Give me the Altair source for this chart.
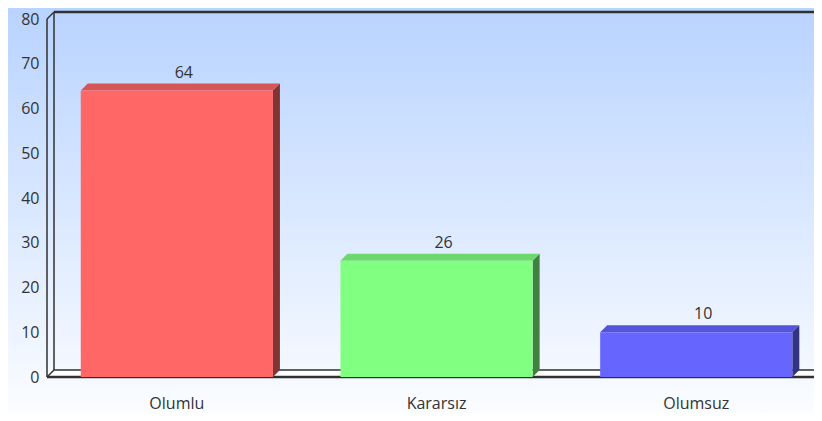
import altair as alt
import pandas as pd

# ---- data ----
categories = ["Olumlu", "Kararsız", "Olumsuz"]
values = [64, 26, 10]
front_colors = ["#FF6666", "#80FF80", "#6666FF"]
top_colors = ["#D95555", "#6CD96C", "#5555D9"]
side_colors = ["#803535", "#408040", "#333380"]
y_ticks = [0, 10, 20, 30, 40, 50, 60, 70, 80]

# ---- layout ----
W, H = 767, 358
SX = 259.7           # px per category band
XMAX = W / SX
YMAX = 80
PAD = 0.13           # half gap inside each category band
sy = H / YMAX
DX = 7 / SX          # 3D depth in data units (x)
DY = 7 / sy          # 3D depth in data units (y)

bars = pd.DataFrame({
    "cat": categories,
    "value": values,
    "x0": [i + PAD for i in range(3)],
    "x1": [i + 1 - PAD for i in range(3)],
    "xc": [i + 0.5 for i in range(3)],
    "front": front_colors,
})

top_rows, side_rows = [], []
for i, (c, v) in enumerate(zip(categories, values)):
    x0, x1 = i + PAD, i + 1 - PAD
    for xx, ya, yb in [(x0, v, v), (x0 + DX, v, v + DY), (x1, v, v + DY), (x1 + DX, v + DY, v + DY)]:
        top_rows.append({"cat": c, "x": xx, "y": ya, "y2": yb, "col": top_colors[i]})
    for xx, ya, yb in [(x1, 0, v), (x1 + DX, DY, v + DY)]:
        side_rows.append({"cat": c, "x": xx, "y": ya, "y2": yb, "col": side_colors[i]})
top_df = pd.DataFrame(top_rows)
side_df = pd.DataFrame(side_rows)

frame_df = pd.DataFrame([
    {"x": 0, "x2": 0, "y": 0, "y2": YMAX, "w": 1.5},
    {"x": DX, "x2": DX, "y": DY, "y2": YMAX + DY, "w": 1.5},
    {"x": 0, "x2": DX, "y": YMAX, "y2": YMAX + DY, "w": 1.5},
    {"x": 0, "x2": DX, "y": 0, "y2": DY, "w": 1.5},
    {"x": DX, "x2": XMAX + 1, "y": YMAX + DY, "y2": YMAX + DY, "w": 2.5},
    {"x": DX, "x2": XMAX + 1, "y": DY, "y2": DY, "w": 1.5},
    {"x": 0, "x2": XMAX + 1, "y": 0, "y2": 0, "w": 2.5},
])

floor_df = pd.DataFrame([
    {"x": 0, "y": 0, "y2": 0},
    {"x": DX, "y": 0, "y2": DY},
    {"x": XMAX + 1, "y": 0, "y2": DY},
])

xs = alt.Scale(domain=[0, XMAX], nice=False, zero=False)
ys = alt.Scale(domain=[0, YMAX], nice=False)
yaxis = alt.Axis(
    values=y_ticks, domain=False, ticks=False, grid=False,
    labelFont="Open Sans", labelFontSize=16, labelColor="#333333",
    labelPadding=8, title=None, zindex=2)


def X(field):
    return alt.X(field, scale=xs, axis=None)


def Y(field):
    return alt.Y(field, scale=ys, axis=yaxis)


bg = alt.Chart(pd.DataFrame({"a": [0]})).mark_rect(
    color=alt.Gradient(
        gradient="linear",
        stops=[alt.GradientStop(color="#B8D3FF", offset=0),
               alt.GradientStop(color="#FFFFFF", offset=1)],
        x1=0, x2=0, y1=0, y2=1,
    )
).encode(
    x=alt.value(-60), x2=alt.value(W + 60),
    y=alt.value(-14), y2=alt.value(H + 60),
)

floor = alt.Chart(floor_df).mark_area(orient="vertical", color="#FFFFFF").encode(
    x=X("x:Q"), y=Y("y:Q"), y2="y2:Q",
)

frame = alt.Chart(frame_df).mark_rule(color="#303030").encode(
    x=X("x:Q"), x2="x2:Q",
    y=Y("y:Q"), y2="y2:Q",
    strokeWidth=alt.StrokeWidth("w:Q", scale=None),
)

side = alt.Chart(side_df).mark_area(orient="vertical").encode(
    x=X("x:Q"), y=Y("y:Q"), y2="y2:Q",
    detail="cat:N",
    color=alt.Color("col:N", scale=None),
)

top = alt.Chart(top_df).mark_area(orient="vertical").encode(
    x=X("x:Q"), y=Y("y:Q"), y2="y2:Q",
    detail="cat:N",
    color=alt.Color("col:N", scale=None),
)

front = alt.Chart(bars).mark_rect().encode(
    x=X("x0:Q"), x2="x1:Q",
    y=Y("value:Q"), y2=alt.datum(0),
    color=alt.Color("front:N", scale=None),
)

vlabels = alt.Chart(bars).mark_text(
    font="Open Sans", fontSize=16, color="#333333", dx=7, dy=-13,
    baseline="alphabetic", align="center",
).encode(
    x=X("xc:Q"), y=Y("value:Q"), text="value:Q",
)

xlabels = alt.Chart(bars).mark_text(
    font="Open Sans", fontSize=16, color="#333333",
    baseline="middle", align="center",
).encode(
    x=X("xc:Q"), y=alt.value(H + 27), text="cat:N",
)

chart = alt.layer(bg, floor, frame, side, top, front, vlabels, xlabels).properties(
    width=W, height=H,
    autosize=alt.AutoSizeParams(type="none"),
    padding={"left": 39, "top": 11, "right": 0, "bottom": 36},
).configure_view(stroke=None).configure(background="#FFFFFF")

chart.save("out.html", embed_options={"renderer": "svg", "actions": False})
